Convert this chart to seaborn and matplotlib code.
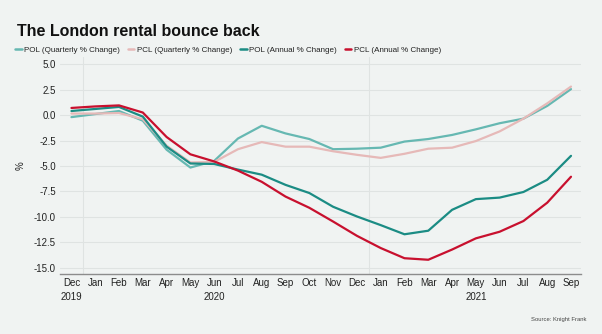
import numpy as np
import pandas as pd
import matplotlib
matplotlib.use("Agg")
import matplotlib.pyplot as plt
import seaborn as sns

months = ["Dec", "Jan", "Feb", "Mar", "Apr", "May", "Jun", "Jul", "Aug", "Sep", "Oct",
          "Nov", "Dec", "Jan", "Feb", "Mar", "Apr", "May", "Jun", "Jul", "Aug", "Sep"]
year_labels = {0: "2019", 6: "2020", 17: "2021"}

pol_quarterly = [-0.2, 0.1, 0.4, -0.55, -3.4, -5.15, -4.5, -2.3, -1.05, -1.8, -2.35,
                 -3.35, -3.3, -3.2, -2.6, -2.35, -1.95, -1.4, -0.8, -0.35, 0.9, 2.55]
pcl_quarterly = [0.15, 0.15, 0.2, -0.4, -3.0, -4.65, -4.6, -3.35, -2.65, -3.1, -3.1,
                 -3.55, -3.9, -4.2, -3.8, -3.3, -3.2, -2.55, -1.6, -0.35, 1.15, 2.8]
pol_annual = [0.4, 0.6, 0.8, -0.15, -3.1, -4.75, -4.8, -5.35, -5.85, -6.85, -7.65,
              -9.0, -9.95, -10.8, -11.7, -11.35, -9.3, -8.25, -8.1, -7.55, -6.35, -4.0]
pcl_annual = [0.7, 0.85, 0.95, 0.25, -2.15, -3.85, -4.55, -5.45, -6.55, -8.0, -9.1,
              -10.45, -11.85, -13.05, -14.05, -14.2, -13.2, -12.1, -11.45, -10.4, -8.6, -6.05]

series = {
    "POL (Quarterly % Change)": pol_quarterly,
    "PCL (Quarterly % Change)": pcl_quarterly,
    "POL (Annual % Change)": pol_annual,
    "PCL (Annual % Change)": pcl_annual,
}
colors = ["#66b8b2", "#e6b9b8", "#1b8c84", "#c8102e"]

idx = np.arange(len(months))
df = pd.concat(
    [pd.DataFrame({"month": idx, "value": vals, "series": name}) for name, vals in series.items()],
    ignore_index=True,
)

bg = "#f0f3f2"
sns.set_theme(style="white")
plt.rcParams["font.family"] = ["Liberation Sans", "DejaVu Sans"]

fig = plt.figure(figsize=(6.02, 3.34), dpi=100, facecolor=bg)
ax = fig.add_axes([0.0997, 0.1796, 0.8654, 0.6497], facecolor=bg)

sns.lineplot(data=df, x="month", y="value", hue="series", palette=colors,
             linewidth=1.6, ax=ax, legend=False)

ax.set_xlim(-0.48, 21.42)
ax.set_ylim(-15.6, 5.7)
ax.set_yticks(np.arange(-15, 5.1, 2.5))
ax.set_yticklabels([f"{v:.1f}" for v in np.arange(-15, 5.1, 2.5)], fontsize=7, color="#222222")
ax.set_xticks(idx)
ax.set_xticklabels(months, fontsize=7, color="#222222")
ax.tick_params(axis="both", length=0, pad=3)
ax.set_xlabel("")
ax.set_ylabel("%", fontsize=7, color="#222222", labelpad=6)

# horizontal grid at each tick, vertical lines at year boundaries
ax.grid(axis="y", color="#dfe3e2", linewidth=0.8)
for xb in (0.5, 12.5):
    ax.axvline(xb, color="#dfe3e2", linewidth=0.8, zorder=0)
ax.set_axisbelow(True)

for s in ("top", "right", "left"):
    ax.spines[s].set_visible(False)
ax.spines["bottom"].set_color("#8c8c8c")
ax.spines["bottom"].set_linewidth(1.0)

for i, yr in year_labels.items():
    ax.text(i, -0.085, yr, transform=ax.get_xaxis_transform(), ha="center", va="top",
            fontsize=7, color="#222222")

fig.text(0.028, 0.893, "The London rental bounce back", fontsize=11.5, fontweight="bold",
         color="#111111", ha="left", va="baseline")

handles = [plt.Line2D([0], [0], color=c, linewidth=1.8) for c in colors]
fig.legend(handles, list(series.keys()), loc="upper left", bbox_to_anchor=(0.02, 0.87),
           ncol=4, frameon=False, fontsize=5.8, handlelength=0.8, handletextpad=0.3,
           columnspacing=1.0, borderaxespad=0, labelcolor="#222222")

fig.text(0.975, 0.035, "Source: Knight Frank", fontsize=4.2, color="#444444", ha="right", va="bottom")

fig.savefig("out.png", dpi=100, facecolor=bg)
